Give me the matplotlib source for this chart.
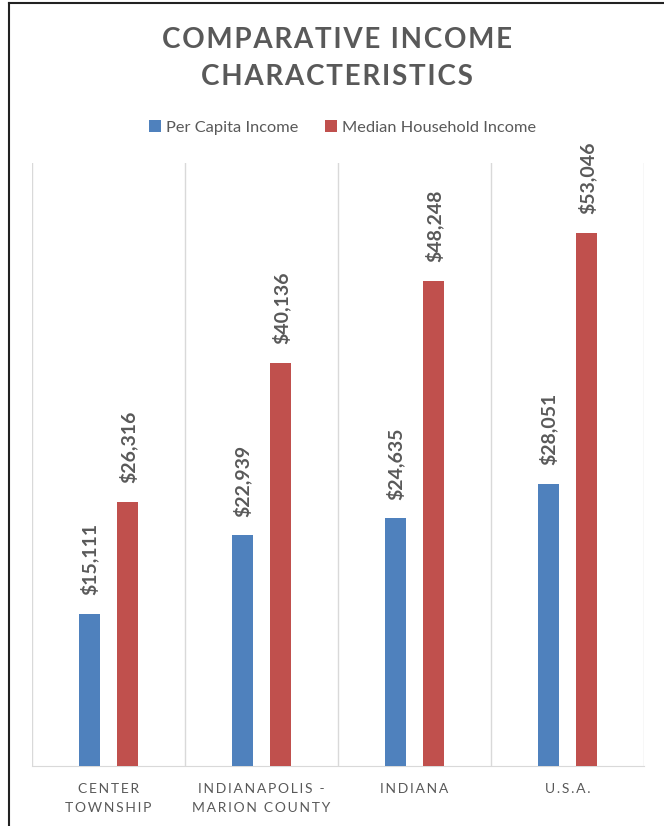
import matplotlib
matplotlib.use("Agg")
import matplotlib.pyplot as plt
import numpy as np

categories = ["CENTER\nTOWNSHIP", "INDIANAPOLIS -\nMARION COUNTY", "INDIANA", "U.S.A."]
per_capita = [15111, 22939, 24635, 28051]
median_household = [26316, 40136, 48248, 53046]
series_names = ["Per Capita Income", "Median Household Income"]
title = "COMPARATIVE INCOME\nCHARACTERISTICS"

BLUE = "#4F81BD"
RED = "#C0504D"
GRAY = "#595959"
FAM = ["Lato", "DejaVu Sans"]

def spaced(s, sp="\u200a"):
    return "\n".join(sp.join(list(line)) for line in s.split("\n"))

fig = plt.figure(figsize=(6.64, 8.26), dpi=100)
ax = fig.add_axes([32/664, 60/826, 612/664, 603/826])

x = np.arange(len(categories))
w = 0.137
off = 0.127
b1 = ax.bar(x - off, per_capita, w, color=BLUE, label=series_names[0], zorder=3)
b2 = ax.bar(x + off, median_household, w, color=RED, label=series_names[1], zorder=3)

ax.set_xlim(-0.5, len(categories) - 0.5)
ax.set_ylim(0, 60000)
ax.set_yticks([])
ax.set_xticks(x)
ax.set_xticklabels([spaced(c, "\u2009") for c in categories], family=FAM,
                   fontsize=10, color=GRAY, linespacing=1.7)
ax.tick_params(axis="x", length=0, pad=12)
for s in ["top", "right", "left"]:
    ax.spines[s].set_visible(False)
ax.spines["bottom"].set_color("#D9D9D9")
for b in np.arange(-0.5, len(categories), 1.0):
    ax.axvline(b, color="#D9D9D9", lw=1, zorder=1)

for bars, vals in [(b1, per_capita), (b2, median_household)]:
    for r, v in zip(bars, vals):
        ax.annotate(f"${v:,}", (r.get_x() + r.get_width()/2, v),
                    xytext=(0, 13.5), textcoords="offset points",
                    rotation=90, ha="center", va="bottom",
                    fontsize=14, fontweight="bold", color=GRAY, family=FAM)

fig.text(0.508, 0.929, spaced(title, "\u200a"), ha="center", va="center",
         fontsize=20, fontweight="bold", color=GRAY, family=FAM, linespacing=1.5)

leg = fig.legend(handles=[b1, b2], labels=series_names, loc="center",
                 bbox_to_anchor=(0.516, 0.846), ncol=2, frameon=False,
                 prop={"family": FAM, "size": 11.8}, handlelength=0.75,
                 handleheight=0.75, handletextpad=0.3, columnspacing=1.6)
for t in leg.get_texts():
    t.set_color(GRAY)

fig.add_artist(plt.Line2D([8.5/664, 8.5/664], [0, 1 - 2.5/826], transform=fig.transFigure, color="#222222", lw=1.5))
fig.add_artist(plt.Line2D([8.5/664, 1], [1 - 2.5/826, 1 - 2.5/826], transform=fig.transFigure, color="#222222", lw=1.5))

fig.savefig("out.png", dpi=100)
